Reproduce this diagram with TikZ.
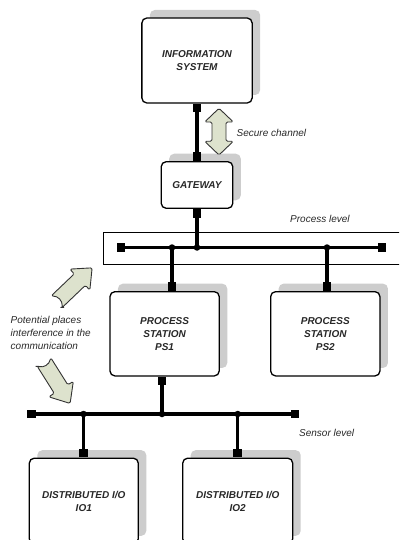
\documentclass[tikz,border=0pt]{standalone}
\usepackage{fontspec}
\setmainfont{Liberation Sans}
\usetikzlibrary{shadows}
\definecolor{arrowfill}{RGB}{221,226,205}
\definecolor{shade}{RGB}{205,205,205}
\definecolor{txt}{RGB}{40,40,40}
\pgfdeclarelayer{wires}
\pgfsetlayers{wires,main}
\begin{document}
\begin{tikzpicture}[x=1pt,y=-1pt,
  box/.style={draw, line width=1.3pt, rounded corners=5pt, fill=white, align=center,
    inner sep=0pt, text=txt,
    font=\bfseries\itshape\fontsize{10}{13}\selectfont,
    general shadow={fill=shade, shadow xshift=8pt, shadow yshift=8pt}},
  sq/.style={fill=black, minimum size=8.5pt, inner sep=0pt},
  dot/.style={circle, fill=black, minimum size=6.5pt, inner sep=0pt},
  wire/.style={line width=3.2pt},
  lbl/.style={font=\itshape\fontsize{10}{12.8}\selectfont, text=txt, inner sep=0pt},
  blockarrow/.style={draw=black!80, fill=arrowfill, line width=0.9pt, line join=round, rounded corners=1.5pt}
]
\useasboundingbox (0,0) rectangle (399,540);
\clip (0,0) rectangle (399,540);

% process level frame
\node[draw, line width=0.8pt, anchor=north west, minimum width=310pt, minimum height=32pt, inner sep=0pt] (plevel) at (102.7,232.3) {};

% boxes
\node[box, minimum width=110.3pt, minimum height=85pt] (info) at (197,60.5) {INFORMATION\\SYSTEM};
\node[box, minimum width=71.6pt, minimum height=46.6pt] (gw) at (197,185) {GATEWAY};
\node[box, minimum width=109.3pt, minimum height=84.3pt] (ps1) at (164.6,333.8) {PROCESS\\STATION\\PS1};
\node[box, minimum width=109.3pt, minimum height=84.3pt] (ps2) at (325.3,333.8) {PROCESS\\STATION\\PS2};
\node[box, minimum width=109pt, minimum height=85.7pt] (io1) at (83.8,501) {DISTRIBUTED I/O\\IO1};
\node[box, minimum width=110pt, minimum height=85.7pt] (io2) at (237.7,501) {DISTRIBUTED I/O\\IO2};

% squares and dots
\node[sq, anchor=north] (s1) at (info.south) {};
\node[sq, anchor=south] (s2) at (gw.north) {};
\node[sq] (b1L) at (121,247.5) {};
\node[sq] (b1R) at (382,247.5) {};
\node[dot] (dg) at (197,247.5) {};
\node[dot] (d1) at (172,247.5) {};
\node[dot] (d2) at (327,247.5) {};
\node[sq, anchor=north] (s3) at (gw.south) {};
\node[sq, anchor=south] (s4) at (ps1.north -| d1) {};
\node[sq, anchor=south] (s5) at (ps2.north -| d2) {};
\node[sq] (b2L) at (31.5,414) {};
\node[sq] (b2R) at (295,414) {};
\node[dot] (d3) at (83.5,414) {};
\node[dot] (d4) at (162,414) {};
\node[dot] (d5) at (237.7,414) {};
\node[sq, anchor=north] (s6) at (ps1.south -| d4) {};
\node[sq, anchor=south] (s7) at (io1.north -| d3) {};
\node[sq, anchor=south] (s8) at (io2.north -| d5) {};

% wires
\begin{pgfonlayer}{wires}
\draw[wire] (s1.center) -- (s2.center);
\draw[wire] (b1L.center) -- (b1R.center);
\draw[wire] (s3.center) -- (dg.center);
\draw[wire] (d1.center) -- (s4.center);
\draw[wire] (d2.center) -- (s5.center);
\draw[wire] (b2L.center) -- (b2R.center);
\draw[wire] (s6.center) -- (d4.center);
\draw[wire] (d3.center) -- (s7.center);
\draw[wire] (d5.center) -- (s8.center);
\end{pgfonlayer}

% secure channel double arrow
\draw[blockarrow] (219,108.3) -- (233.3,122) -- (226,122) -- (226,141.3) -- (233.3,141.3)
  -- (219,155) -- (204.7,141.3) -- (212,141.3) -- (212,122) -- (204.7,122) -- cycle;

% interference arrows
\begin{scope}[shift={(56.7,301.7)}, rotate=43.7]
  \draw[blockarrow] (0,8) -- (32,8) -- (32,14.5) -- (49,0) -- (32,-14.5) -- (32,-8) -- (0,-8)
    .. controls (5,-3) and (5,3) .. cycle;
\end{scope}
\begin{scope}[shift={(44,362)}, rotate=-57.8]
  \draw[blockarrow] (0,8) -- (32,8) -- (32,14.5) -- (49,0) -- (32,-14.5) -- (32,-8) -- (0,-8)
    .. controls (5,-3) and (5,3) .. cycle;
\end{scope}

% labels
\node[lbl, anchor=west] (lsec) at (236.5,133) {Secure channel};
\node[lbl, anchor=west] (lproc) at (290,219) {Process level};
\node[lbl, anchor=west] (lsens) at (299,433) {Sensor level};
\node[lbl, anchor=west, align=left] (lpot) at (10.5,333) {Potential places\\interference in the\\communication};
\end{tikzpicture}
\end{document}
